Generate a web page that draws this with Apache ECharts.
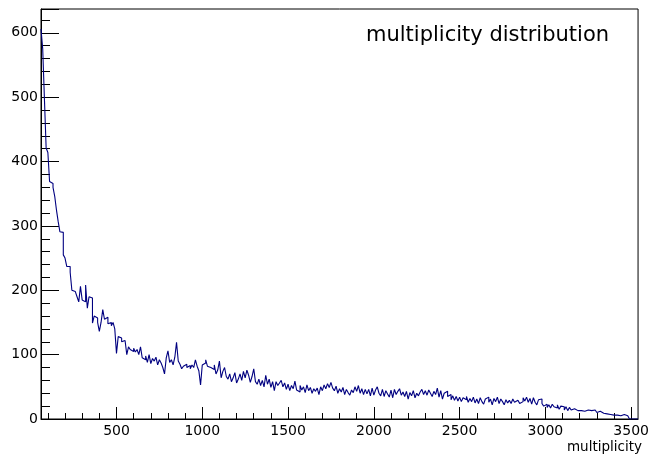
<!DOCTYPE html>
<html>
<head>
<meta charset="utf-8">
<script src="https://cdn.jsdelivr.net/npm/echarts@6/dist/echarts.min.js"></script>
<style>
html,body{margin:0;padding:0;background:#fff;}
#chart{width:652px;height:457px;}
</style>
</head>
<body>
<div id="chart"></div>
<script>
// Histogram: first bin lower edge and bin width (x units)
const binStart = 60;
const binWidth = 10;
const xMin = 60;
const xMax = 3540;
const yMax = 637;
// Bin contents (one per 10-unit bin, starting at 60)
const counts = [
  606, 575, 497, 421, 414, 369, 366, 360, 346, 325,
  307, 291, 290, 255, 250, 237, 237, 228, 200, 198,
  196, 190, 182, 206, 185, 182, 208, 172, 190, 188,
  149, 160, 157, 150, 136, 150, 170, 155, 158, 148,
  150, 145, 150, 140, 102, 128, 126, 120, 122, 120,
  100, 112, 108, 105, 110, 104, 108, 100, 112, 95,
  92, 98, 88, 100, 86, 94, 90, 96, 84, 92,
  87, 80, 70, 95, 106, 88, 92, 84, 96, 119,
  90, 85, 78, 82, 85, 80, 83, 78, 84, 80,
  92, 82, 75, 53, 84, 87, 92, 82, 80, 78,
  77, 84, 70, 76, 90, 64, 74, 80, 66, 62,
  70, 58, 64, 72, 56, 62, 70, 60, 74, 64,
  76, 68, 57, 66, 78, 58, 54, 62, 52, 60,
  50, 68, 54, 62, 49, 58, 44, 58, 52, 56,
  60, 50, 56, 46, 54, 44, 52, 47, 59, 45,
  42, 52, 45, 50, 41, 53, 44, 49, 40, 47,
  43, 48, 38, 50, 44, 53, 47, 55, 49, 57,
  48, 44, 51, 40, 47, 42, 49, 38, 46, 41,
  37, 45, 41, 50, 43, 52, 40, 47, 38, 46,
  39, 46, 36, 48, 37, 45, 50, 40, 36, 46,
  35, 44, 39, 34, 45, 33, 46, 38, 43, 47,
  37, 42, 35, 43, 31, 41, 36, 44, 33, 40,
  36, 42, 46, 38, 44, 37, 45, 40, 35, 43,
  38, 48, 34, 44, 31, 40, 43, 35, 38, 30,
  36, 29, 35, 28, 34, 27, 33, 30, 35, 26,
  32, 27, 34, 25, 31, 24, 33, 27, 23, 31,
  34, 26, 31, 22, 32, 27, 34, 24, 31, 27,
  22, 30, 25, 29, 24, 31, 26, 29, 32, 24,
  27, 33, 28, 34, 26, 32, 23, 33, 26, 22,
  30, 31, 24, 20, 23, 18, 22, 17, 23, 19,
  17, 22, 15, 20, 19, 14, 19, 13, 18, 14,
  16, 14, 13, 15, 13, 14, 12, 13, 14, 12,
  13, 11, 14, 12, 10, 12, 11, 9, 10, 8,
  9, 7, 8, 6, 5, 6, 4, 5, 3, 7,
  6, 5, 2, 0, 0, 0, 0, 0
];
const xMajorTicks = [500, 1000, 1500, 2000, 2500, 3000, 3500];
const xMinorTicks = [100, 200, 300, 400, 600, 700, 800, 900, 1100, 1200, 1300, 1400,
  1600, 1700, 1800, 1900, 2100, 2200, 2300, 2400, 2600, 2700, 2800, 2900,
  3100, 3200, 3300, 3400];
const titleText = 'multiplicity distribution';
const xTitle = 'multiplicity';

// histogram outline: each bin contributes its lower and upper edge at its content
const points = [];
counts.forEach((c, i) => {
  points.push([binStart + i * binWidth, c]);
  points.push([binStart + (i + 1) * binWidth, c]);
});

const FONT = 'DejaVu Sans';
const chart = echarts.init(document.getElementById('chart'), null, {renderer: 'canvas'});
chart.setOption({
  animation: false,
  backgroundColor: '#fff',
  grid: {left: 41, top: 9, right: 9, bottom: 38, show: true, borderColor: '#000', borderWidth: 1, backgroundColor: 'transparent'},
  xAxis: [{
    type: 'value', min: xMin, max: xMax,
    axisLine: {show: true, lineStyle: {color: '#000', width: 1}},
    axisTick: {show: true, inside: true, length: 12, customValues: xMajorTicks, lineStyle: {color: '#000', width: 1}},
    axisLabel: {customValues: xMajorTicks, fontSize: 14, fontFamily: FONT, color: '#000', margin: 5,
      formatter: v => String(v)},
    splitLine: {show: false}
  }, {
    type: 'value', min: xMin, max: xMax, position: 'bottom', offset: 0,
    axisLine: {show: false},
    axisTick: {show: true, inside: true, length: 6, customValues: xMinorTicks, lineStyle: {color: '#000', width: 1}},
    axisLabel: {show: false},
    splitLine: {show: false}
  }],
  yAxis: {
    type: 'value', min: 0, max: yMax, interval: 100,
    axisLine: {show: true, lineStyle: {color: '#000', width: 1}},
    axisTick: {show: true, inside: true, length: 18, lineStyle: {color: '#000', width: 1}},
    minorTick: {show: true, splitNumber: 5, length: 9, lineStyle: {color: '#000', width: 1}},
    axisLabel: {fontSize: 14, fontFamily: FONT, color: '#000', margin: 3, showMaxLabel: false,
      formatter: v => String(v)},
    splitLine: {show: false},
    minorSplitLine: {show: false}
  },
  series: [{
    type: 'line',
    xAxisIndex: 0,
    data: points,
    showSymbol: false,
    symbol: 'none',
    sampling: null,
    lineStyle: {color: '#000080', width: 1.1},
    itemStyle: {color: '#000080'},
    clip: true
  }],
  graphic: [{
    type: 'text', x: 366, y: 36,
    style: {text: titleText, fontSize: 21, fontFamily: FONT, fill: '#000', align: 'left', verticalAlign: 'middle', textAlign: 'left', textVerticalAlign: 'middle'}
  }, {
    type: 'text', x: 642, y: 447,
    style: {text: xTitle, fontSize: 13.5, fontFamily: FONT, fill: '#000', align: 'right', verticalAlign: 'middle', textAlign: 'right', textVerticalAlign: 'middle'}
  }]
});
</script>
</body>
</html>
